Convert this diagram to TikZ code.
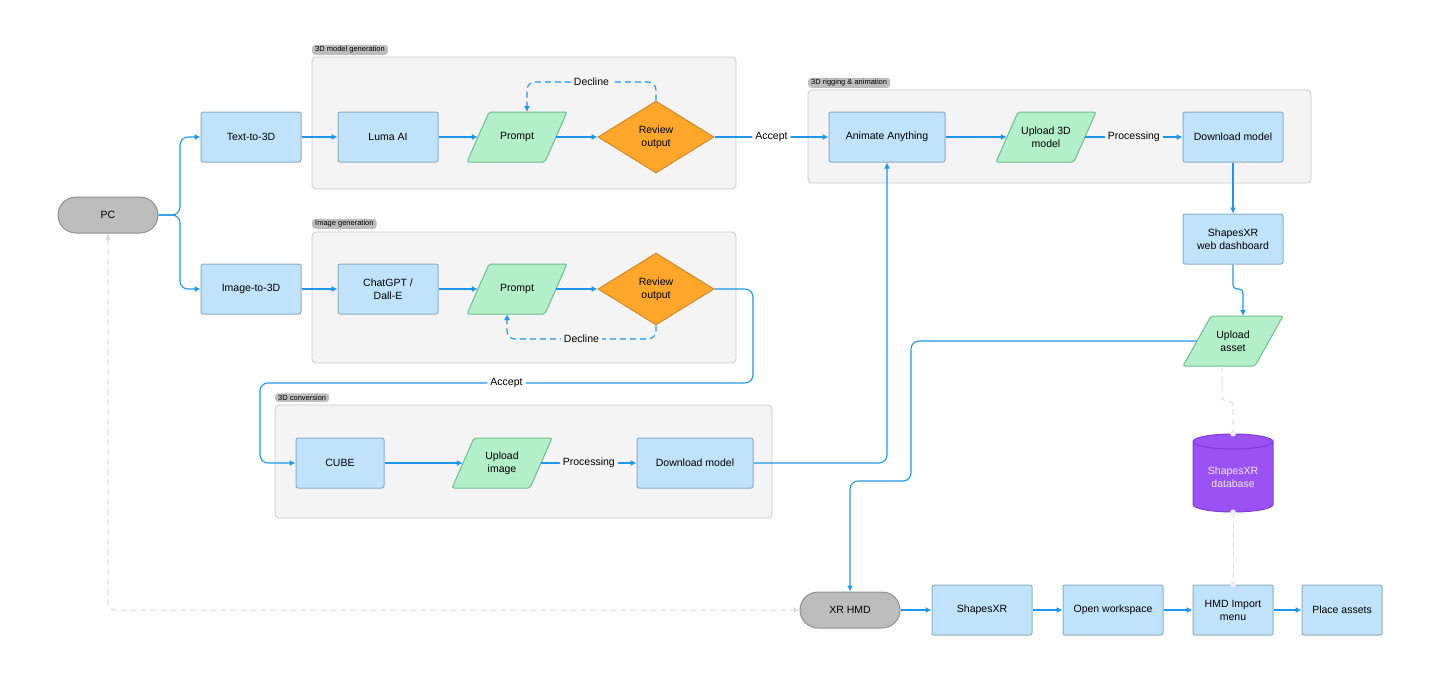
\documentclass[tikz,border=0pt]{standalone}
\usepackage{fontspec}
\setmainfont{Liberation Sans}
\usetikzlibrary{shapes.geometric,arrows.meta}
\definecolor{bfill}{HTML}{C0E3FB}\definecolor{bdraw}{HTML}{8EADC4}
\definecolor{gfill}{HTML}{B3F0C9}\definecolor{gdraw}{HTML}{6DBE8C}
\definecolor{ofill}{HTML}{FFA62B}\definecolor{odraw}{HTML}{D08A2A}
\definecolor{arr}{HTML}{1E96EB}\definecolor{grp}{HTML}{F4F4F4}\definecolor{grpd}{HTML}{C9C9C9}
\definecolor{pfill}{HTML}{9B52F5}\definecolor{pdraw}{HTML}{7D3BD8}\definecolor{ptext}{HTML}{F3E6FF}
\definecolor{pill}{HTML}{BDBDBD}\definecolor{pilld}{HTML}{8F8F8F}\definecolor{pale}{HTML}{DADADA}
\newcommand{\para}[5]{%
  \filldraw[fill=gfill,draw=gdraw,line width=1pt,rounded corners=2pt] (#2-50,#3+25)--(#2+50-#5,#3+25)--(#2+50,#3-25)--(#2-50+#5,#3-25)--cycle;
  \node[txt,minimum width=100pt-#5,minimum height=50pt,align=center] (#1) at (#2,#3) {#4};}
\begin{document}
\begin{tikzpicture}[x=1pt,y=-1pt,
  txt/.style={font=\fontsize{10.5}{13}\selectfont,inner sep=0pt},
  box/.style={txt,draw=bdraw,fill=bfill,line width=1pt,rounded corners=2pt,minimum width=100pt,minimum height=50pt,align=center},
  pillst/.style={txt,draw=pilld,fill=pill,line width=1pt,rounded corners=18pt,minimum width=100pt,minimum height=36pt},
  dia/.style={txt,diamond,draw=odraw,fill=ofill,line width=1pt,minimum width=116pt,minimum height=72pt,aspect=1.6,align=center,inner sep=0pt},
  grpbox/.style={draw=grpd,fill=grp,line width=0.8pt,rounded corners=4pt},
  glab/.style={font=\fontsize{7.5}{9}\selectfont,fill=pill,rounded corners=3pt,inner xsep=3pt,inner ysep=1.5pt,anchor=south west},
  a/.style={draw=arr,line width=1.1pt,rounded corners=8pt,-{Latex[length=6pt,width=6pt]}},
  ad/.style={a,dash pattern=on 6pt off 4pt},
  lab/.style={txt,fill=white,inner xsep=3pt,inner ysep=2pt},
  lab2/.style={txt,fill=grp,inner xsep=3pt,inner ysep=2pt},
  pl/.style={draw=pale,line width=1pt,dash pattern=on 6pt off 4pt,rounded corners=3pt}]
\useasboundingbox (0,0) rectangle (1440,694);
% groups
\draw[grpbox] (312,57) rectangle (736,189); \node[glab] (g1) at (312,55) {3D model generation};
\draw[grpbox] (312,232) rectangle (736,363); \node[glab] (g2) at (312,229) {Image generation};
\draw[grpbox] (808,90) rectangle (1311,183); \node[glab] (g3) at (808,88) {3D rigging \& animation};
\draw[grpbox] (275,405) rectangle (772,518); \node[glab] (g4) at (275,402) {3D conversion};
% nodes
\node[pillst] (pc) at (108,215) {PC};
\node[box] (t3d) at (251,137) {Text-to-3D};
\node[box] (i3d) at (251,289) {Image-to-3D};
\node[box] (luma) at (388,137) {Luma AI};
\para{p1}{517}{137}{Prompt}{22}
\node[dia] (r1) at (656,137) {Review\\output};
\node[box] (chat) at (388,289) {ChatGPT /\\Dall-E};
\para{p2}{517}{289}{Prompt}{22}
\node[dia] (r2) at (656,289) {Review\\output};
\node[box,minimum width=116pt] (anim) at (887,137) {Animate Anything};
\para{u3}{1046}{137}{Upload 3D\\model}{22}
\node[box] (dm1) at (1233,137) {Download model};
\node[box] (web) at (1233,239) {ShapesXR\\web dashboard};
\para{ua}{1233}{341}{Upload\\asset}{28}
\node[txt,cylinder,shape border rotate=90,aspect=0.3,draw=pdraw,fill=pfill,line width=1pt,minimum width=80pt,minimum height=78pt,text=ptext,align=center] (db) at (1233,477) {ShapesXR\\database};
\node[box,minimum width=88pt] (cube) at (340,463) {CUBE};
\para{ui}{502}{463}{Upload\\image}{22}
\node[box,minimum width=116pt] (dm2) at (695,463) {Download model};
\node[pillst] (xr) at (850,610) {XR HMD};
\node[box] (sxr) at (982,610) {ShapesXR};
\node[box] (ow) at (1113,610) {Open workspace};
\node[box,minimum width=80pt] (hmd) at (1233,610) {HMD Import\\menu};
\node[box,minimum width=80pt] (pa) at (1342,610) {Place assets};
% connectors
\draw[a] (pc.east) -| (180,137) -- (t3d.west);
\draw[a] (pc.east) -| (180,289) -- (i3d.west);
\draw[a] (t3d) -- (luma); \draw[a] (luma) -- (p1); \draw[a] (p1) -- (r1);
\draw[a] (i3d) -- (chat); \draw[a] (chat) -- (p2); \draw[a] (p2) -- (r2);
\draw[ad] (r1.north) -- (656,82) -- node[lab2]{Decline} (527,82) -- (527,112);
\draw[ad] (r2.south) -- (656,339) -- node[lab2]{Decline} (507,339) -- (507,314);
\draw[a] (r1) -- node[lab]{Accept} (anim);
\draw[a] (anim) -- (u3); \draw[a] (u3) -- node[lab2]{Processing} (dm1);
\draw[a] (dm1) -- (web);
\draw[a,rounded corners=4pt] (web.south) -- (1233,289) -- (1243,289) -- (1243,316);
\draw[a] (r2.east) -| (753,383) -- node[lab]{Accept} (260,383) |- (cube.west);
\draw[a] (cube) -- (ui); \draw[a] (ui) -- node[lab2]{Processing} (dm2);
\draw[a] (dm2.east) -| (anim.south);
\draw[a] (ua.west) -| (911,481) -| (xr.north);
\draw[a] (xr) -- (sxr); \draw[a] (sxr) -- (ow); \draw[a] (ow) -- (hmd); \draw[a] (hmd) -- (pa);
\draw[pale,line width=1pt,dash pattern=on 6pt off 4pt,rounded corners=8pt,{Latex[length=6pt,width=6pt]}-{Latex[length=6pt,width=6pt]}] (pc.south) |- (xr.west);
\draw[pl] (1222,366) -- (1222,400) -- (1233,402) -- (db.north);
\draw[pl] (db.south) -- (hmd.north);
\fill[ptext!80!pfill!40] (db.north) circle (3pt) (db.south) circle (3pt) (hmd.north) circle (3pt);
\end{tikzpicture}
\end{document}
